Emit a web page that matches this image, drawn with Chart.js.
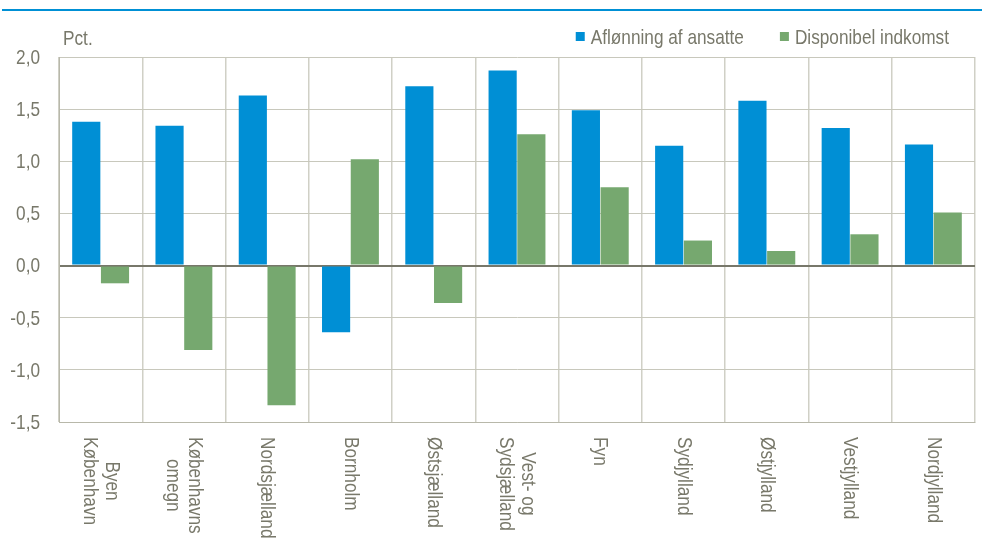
<!DOCTYPE html>
<html>
<head>
<meta charset="utf-8">
<script src="https://cdn.jsdelivr.net/npm/chart.js@4.4.1/dist/chart.umd.min.js"></script>
<style>
  html, body { margin: 0; padding: 0; background: #fff; }
  #wrap { width: 982px; height: 540px; position: relative; }
</style>
</head>
<body>
<div id="wrap"><canvas id="regionChart"></canvas></div>
<script>
// Data
const regions = [
    ['Byen', 'København'],
    ['Københavns', 'omegn'],
    ['Nordsjælland'],
    ['Bornholm'],
    ['Østsjælland'],
    ['Vest- og', 'Sydsjælland'],
    ['Fyn'],
    ['Sydjylland'],
    ['Østjylland'],
    ['Vestjylland'],
    ['Nordjylland']
];
const aflonning = [1.38, 1.34, 1.63, -0.64, 1.72, 1.87, 1.49, 1.15, 1.58, 1.32, 1.16];
const disponibel = [-0.17, -0.81, -1.34, 1.02, -0.36, 1.26, 0.75, 0.24, 0.14, 0.30, 0.51];
const yTicks = [-1.5, -1.0, -0.5, 0.0, 0.5, 1.0, 1.5, 2.0];
const yUnit = 'Pct.';

// Arial-metric font squeezed horizontally to mimic a narrow face
const FONT = '21px "Liberation Sans", Arial, sans-serif';
const NARROW = 0.82;
const TEXT = '#78786a';
const BLUE = '#008fd5';
const GREEN = '#76a86f';

function textWidth(ctx, s) {
    return ctx.measureText(s).width * NARROW;
}

function narrowText(ctx, s, x, y, align) {
    ctx.save();
    ctx.translate(x, y);
    ctx.scale(NARROW, 1);
    ctx.textAlign = align || 'left';
    ctx.fillText(s, 0, 0);
    ctx.restore();
}

const decorations = {
    id: 'decorations',
    beforeDraw(chart) {
        const ctx = chart.ctx;
        ctx.save();
        ctx.fillStyle = '#ffffff';
        ctx.fillRect(0, 0, chart.width, chart.height);
        // blue rule at the top
        ctx.fillStyle = '#0090d5';
        ctx.fillRect(2, 9, chart.width - 2, 2);
        ctx.restore();
    },
    afterDraw(chart) {
        const ctx = chart.ctx;
        const area = chart.chartArea;
        const x = chart.scales.x;
        const y = chart.scales.y;
        ctx.save();
        ctx.font = FONT;
        ctx.fillStyle = TEXT;
        ctx.textBaseline = 'alphabetic';

        // unit label
        narrowText(ctx, yUnit, area.left + 4, 45);

        // y tick labels
        ctx.textBaseline = 'middle';
        yTicks.forEach(v => {
            narrowText(ctx, v.toFixed(1).replace('.', ','), 40, y.getPixelForValue(v) + 1, 'right');
        });

        // legend, right aligned
        ctx.textBaseline = 'alphabetic';
        const items = chart.data.datasets.map(ds => ({
            label: ds.label, color: ds.backgroundColor, w: textWidth(ctx, ds.label)
        }));
        let lx = 949;
        for (let i = items.length - 1; i >= 0; i--) {
            lx -= items[i].w;
            items[i].tx = lx;
            items[i].bx = lx - 15;
            lx = items[i].bx - 36;
        }
        items.forEach(it => {
            ctx.fillStyle = it.color;
            ctx.fillRect(it.bx, 32, 9, 9);
            ctx.fillStyle = TEXT;
            narrowText(ctx, it.label, it.tx, 44);
        });

        // rotated category labels
        ctx.textBaseline = 'middle';
        regions.forEach((lines, i) => {
            const cx = x.getPixelForValue(i);
            const maxW = Math.max(...lines.map(l => textWidth(ctx, l)));
            ctx.save();
            ctx.translate(cx, area.bottom + 15);
            ctx.rotate(Math.PI / 2);
            lines.forEach((line, k) => {
                const v = (k - (lines.length - 1) / 2) * 22;
                narrowText(ctx, line, maxW / 2, v, 'center');
            });
            ctx.restore();
        });
        ctx.restore();
    }
};

new Chart(document.getElementById('regionChart'), {
    type: 'bar',
    data: {
        labels: regions,
        datasets: [{
            label: 'Aflønning af ansatte',
            data: aflonning,
            backgroundColor: BLUE,
            categoryPercentage: 0.69,
            barPercentage: 0.98
        }, {
            label: 'Disponibel indkomst',
            data: disponibel,
            backgroundColor: GREEN,
            categoryPercentage: 0.69,
            barPercentage: 0.98
        }]
    },
    options: {
        responsive: true,
        maintainAspectRatio: false,
        animation: false,
        devicePixelRatio: 1,
        layout: { padding: { top: 57, right: 7, bottom: 0, left: 0 } },
        plugins: {
            legend: { display: false },
            tooltip: { enabled: false }
        },
        scales: {
            x: {
                offset: true,
                ticks: { display: false },
                grid: { offset: true, drawTicks: false, color: '#d0d0c6', lineWidth: 1.5 },
                border: { display: true, color: '#b8b8aa', width: 1 },
                afterFit(scale) { scale.height = 118; }
            },
            y: {
                min: -1.5,
                max: 2.0,
                afterBuildTicks(scale) {
                    scale.ticks = yTicks.map(v => ({ value: v }));
                },
                ticks: { display: false },
                grid: {
                    drawTicks: false,
                    color: ctx => ctx.tick && ctx.tick.value === 0 ? '#77776a' : '#c8c8bc',
                    lineWidth: ctx => ctx.tick && ctx.tick.value === 0 ? 2 : 1
                },
                border: { display: true, color: '#b8b8aa', width: 1 },
                afterFit(scale) { scale.width = 59; }
            }
        }
    },
    plugins: [decorations]
});
</script>
</body>
</html>
